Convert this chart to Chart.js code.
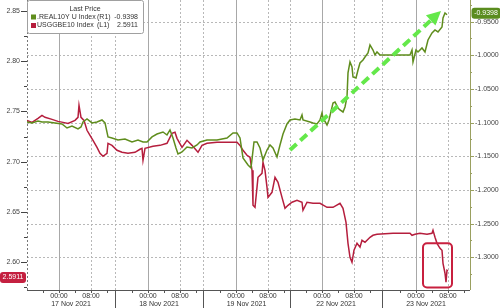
<!DOCTYPE html>
<html>
<head>
<meta charset="utf-8">
<script src="https://cdn.jsdelivr.net/npm/chart.js@4.4.1/dist/chart.umd.min.js"></script>
<style>
html, body { margin: 0; padding: 0; background: #fff; }
</style>
</head>
<body>
<canvas id="realYieldChart" width="500" height="308"></canvas>
<script>
// Series: x = position on the session axis (trading hours from the left edge)
const realX = [0, 1.25, 2.75, 3.75, 5.25, 7, 8.75, 10, 11.25, 12.75,
    13.5, 14, 15, 16.25, 17.5, 18.75, 19.5, 20.25, 21.25, 22.75,
    24.5, 26.25, 27.75, 29, 30, 31.25, 32.5, 34, 35, 35.75,
    36.5, 37.25, 37.75, 38.75, 40, 41.25, 42.5, 43.25, 45, 47.5,
    50, 51.5, 52.5, 53.25, 54, 55.25, 56, 56.75, 57.5, 58.25,
    59, 60, 60.75, 61.5, 62.5, 63.25, 64, 65, 65.75, 67,
    68.25, 68.75, 69, 70.75, 71.5, 72.5, 73.25, 73.75, 74, 75,
    75.5, 76.5, 77, 77.75, 78.25, 79, 79.5, 80, 80.25, 80.75,
    81.25, 81.5, 82.25, 82.75, 83.25, 84, 84.5, 85.25, 85.75, 86.5,
    87, 87.5, 88.25, 90.75, 93.25, 95.75, 96.25, 96.5, 97.25, 97.75,
    98.75, 99.5, 100.25, 101.25, 102, 102.75, 103.75, 104, 104.5, 105];
const realY = [-1.0990, -1.1005, -1.0976, -1.0990, -1.0990, -1.1005, -1.1020, -1.1080, -1.1050, -1.1094,
    -1.1065, -1.0990, -1.0946, -1.1005, -1.0990, -1.0961, -1.1005, -1.1213, -1.1228, -1.1258,
    -1.1243, -1.1288, -1.1258, -1.1288, -1.1288, -1.1213, -1.1169, -1.1139, -1.1184, -1.1109,
    -1.1228, -1.1377, -1.1466, -1.1436, -1.1362, -1.1377, -1.1332, -1.1288, -1.1258, -1.1258,
    -1.1228, -1.1154, -1.1154, -1.1228, -1.1525, -1.1629, -1.1674, -1.1288, -1.1288, -1.1377,
    -1.1555, -1.1407, -1.1332, -1.1377, -1.1511, -1.1332, -1.1169, -1.1020, -1.0961, -1.0946,
    -1.0961, -1.0886, -1.0961, -1.0990, -1.1005, -1.1020, -1.0961, -1.0857, -1.0931, -1.1035,
    -1.0961, -1.0708, -1.0693, -1.0782, -1.0812, -1.0842, -1.0768, -1.0619, -1.0262, -1.0099,
    -1.0173, -1.0322, -1.0337, -1.0218, -1.0114, -1.0069, -1.0025, -0.9965, -0.9846, -0.9921,
    -0.9995, -0.9950, -0.9995, -0.9995, -0.9995, -0.9995, -0.9921, -1.0099, -0.9921, -0.9950,
    -0.9891, -0.9950, -0.9772, -0.9668, -0.9623, -0.9653, -0.9579, -0.9445, -0.9371, -0.9398];

const beX = [0, 1.25, 2.75, 3.75, 4.5, 6.25, 7.75, 9, 10.25, 12,
    12.75, 13, 13.5, 14.25, 15, 15.75, 16.5, 17.5, 18.25, 19,
    20, 20.25, 21.25, 22.5, 23.75, 25.25, 27, 28.25, 28.75, 29,
    29.5, 31.5, 33.25, 35, 36.25, 37, 37.5, 38.75, 40, 41.25,
    42.75, 43.75, 45, 47.5, 50, 52.5, 53.25, 54, 55, 55.75,
    56.25, 56.5, 57, 57.5, 57.75, 58.75, 59, 59.5, 60, 60.25,
    61.25, 62, 62.75, 63.75, 64.5, 65.25, 66.25, 67.5, 68.75, 69,
    70, 71.5, 73.25, 75, 76.5, 78.25, 79, 79.75, 80.25, 80.75,
    81.25, 81.75, 82.5, 83.25, 83.75, 84.5, 85.75, 86.5, 87.5, 91.5,
    95.75, 96.25, 97, 98.25, 100, 101.25, 101.5, 102, 102.5, 103.25,
    103.75, 104, 104.5, 104.75, 105, 105.25];
const beY = [2.7411, 2.7391, 2.7431, 2.7461, 2.7441, 2.7421, 2.7401, 2.7391, 2.7381, 2.7411,
    2.7441, 2.7561, 2.7441, 2.7411, 2.7312, 2.7262, 2.7212, 2.7142, 2.7083, 2.7053,
    2.7083, 2.7182, 2.7162, 2.7113, 2.7093, 2.7083, 2.7093, 2.7123, 2.7132, 2.7013,
    2.7132, 2.7152, 2.7162, 2.7182, 2.7282, 2.7292, 2.7232, 2.7142, 2.7212, 2.7162,
    2.7093, 2.7162, 2.7182, 2.7192, 2.7192, 2.7192, 2.7162, 2.7113, 2.7063, 2.7043,
    2.6913, 2.6565, 2.6545, 2.6744, 2.6844, 2.6883, 2.6993, 2.6913, 2.6744, 2.6644,
    2.6694, 2.6844, 2.6794, 2.6644, 2.6535, 2.6565, 2.6595, 2.6615, 2.6595, 2.6515,
    2.6595, 2.6585, 2.6585, 2.6545, 2.6545, 2.6585, 2.6535, 2.6395, 2.6186, 2.6047,
    2.5997, 2.6117, 2.6186, 2.6147, 2.6216, 2.6196, 2.6246, 2.6266, 2.6276, 2.6286,
    2.6286, 2.6266, 2.6276, 2.6286, 2.6276, 2.6286, 2.6316, 2.6246, 2.6186, 2.6136,
    2.6117, 2.5987, 2.5888, 2.5798, 2.5917, 2.5911];

// Axes
const leftTicks = [2.60, 2.65, 2.70, 2.75, 2.80, 2.85];
const rightTicks = [-0.95, -1.00, -1.05, -1.10, -1.15, -1.20, -1.25, -1.30];
const dayZero = [8, 30.25, 52.25, 73.75, 97.25];        // 00:00 of each day
const sessionBreaks = [22, 44, 65.75, 88.75];
const dayLabels = ['17 Nov 2021', '18 Nov 2021', '19 Nov 2021', '22 Nov 2021', '23 Nov 2021'];
const X_MAX = 110.75;

// Annotations
const arrowFrom = [65.75, -1.1407];
const arrowTo = [103.5, -0.9341];
const boxX = [99, 106.25];
const boxY = [2.6186, 2.5747];

const FAMILY = '"Liberation Sans", Arial, sans-serif';
const FONT = '7px ' + FAMILY;
const GREEN = '#5f8d1d';
const RED = '#b51e3d';

function seg(ctx, x1, y1, x2, y2) {
    ctx.beginPath();
    ctx.moveTo(x1, y1);
    ctx.lineTo(x2, y2);
    ctx.stroke();
}

function rrect(ctx, x, y, w, h, r) {
    ctx.beginPath();
    ctx.moveTo(x + r, y);
    ctx.arcTo(x + w, y, x + w, y + h, r);
    ctx.arcTo(x + w, y + h, x, y + h, r);
    ctx.arcTo(x, y + h, x, y, r);
    ctx.arcTo(x, y, x + w, y, r);
    ctx.closePath();
}

const bbgFrame = {
    id: 'bbgFrame',
    beforeDatasetsDraw(chart) {
        const { ctx, chartArea: a, scales } = chart;
        const xs = scales.x, yR = scales.yR;
        ctx.save();
        ctx.lineWidth = 1;
        // horizontal grid (right axis)
        ctx.strokeStyle = '#b8b8b8';
        ctx.setLineDash([2, 2]);
        rightTicks.forEach(v => {
            const py = Math.round(yR.getPixelForValue(v)) + 0.5;
            seg(ctx, a.left, py, a.right, py);
        });
        // dotted verticals: 08:00 and session breaks
        const dotted = sessionBreaks.concat(dayZero.map(d => d + 8));
        dotted.forEach(v => {
            const px = Math.round(xs.getPixelForValue(v)) + 0.5;
            seg(ctx, px, a.top, px, a.bottom);
        });
        // left edge dotted
        ctx.strokeStyle = '#777';
        seg(ctx, a.left + 0.5, a.top, a.left + 0.5, a.bottom);
        // solid verticals at 00:00
        ctx.setLineDash([]);
        ctx.strokeStyle = '#a8a8a8';
        dayZero.forEach(v => {
            const px = Math.round(xs.getPixelForValue(v)) + 0.5;
            seg(ctx, px, a.top, px, a.bottom);
        });
        ctx.restore();
    },
    afterDatasetsDraw(chart) {
        const { ctx, scales } = chart;
        const xs = scales.x, yR = scales.yR, yL = scales.yL;
        ctx.save();
        // dashed arrow
        const x0 = xs.getPixelForValue(arrowFrom[0]), y0 = yR.getPixelForValue(arrowFrom[1]);
        const x1 = xs.getPixelForValue(arrowTo[0]), y1 = yR.getPixelForValue(arrowTo[1]);
        const ang = Math.atan2(y1 - y0, x1 - x0);
        const head = 14, half = 7;
        const bx = x1 - head * Math.cos(ang), by = y1 - head * Math.sin(ang);
        ctx.strokeStyle = '#64e84a';
        ctx.fillStyle = '#64e84a';
        ctx.lineWidth = 4;
        ctx.setLineDash([9, 5]);
        seg(ctx, x0, y0, bx, by);
        ctx.setLineDash([]);
        ctx.beginPath();
        ctx.moveTo(x1, y1);
        ctx.lineTo(bx + half * Math.sin(ang), by - half * Math.cos(ang));
        ctx.lineTo(bx - half * Math.sin(ang), by + half * Math.cos(ang));
        ctx.closePath();
        ctx.fill();
        // red highlight box
        const bl = xs.getPixelForValue(boxX[0]), br = xs.getPixelForValue(boxX[1]);
        const bt = yL.getPixelForValue(boxY[0]), bb = yL.getPixelForValue(boxY[1]);
        ctx.strokeStyle = '#c8203f';
        ctx.lineWidth = 2;
        rrect(ctx, bl, bt, br - bl, bb - bt, 4);
        ctx.stroke();
        ctx.restore();
    },
    afterDraw(chart) {
        const { ctx, chartArea: a, scales } = chart;
        const xs = scales.x, yR = scales.yR, yL = scales.yL;
        ctx.save();
        ctx.lineWidth = 1;
        // bottom axis
        ctx.strokeStyle = '#555';
        seg(ctx, a.left, a.bottom + 0.5, a.right, a.bottom + 0.5);
        // x tick marks
        dayZero.forEach((z, i) => {
            const start = i === 0 ? 0 : sessionBreaks[i - 1];
            const end = i < sessionBreaks.length ? sessionBreaks[i] : X_MAX;
            for (let k = -12; k <= 20; k += 4) {
                const t = z + k;
                if (t > start + 0.5 && t < end - 0.5) {
                    const px = Math.round(xs.getPixelForValue(t)) + 0.5;
                    seg(ctx, px, a.bottom, px, a.bottom + 3);
                }
            }
        });
        sessionBreaks.forEach(v => {
            const px = Math.round(xs.getPixelForValue(v)) + 0.5;
            seg(ctx, px, a.bottom, px, 308);
        });
        // left axis tick marks
        ctx.strokeStyle = '#444';
        for (let v = 2.575; v < 2.861; v += 0.025) {
            const py = Math.round(yL.getPixelForValue(v)) + 0.5;
            const major = Math.abs(Math.round(v / 0.05) * 0.05 - v) < 0.001;
            seg(ctx, a.left - (major ? 6 : 3), py, a.left, py);
        }
        // right axis line and ticks
        ctx.strokeStyle = '#9aa060';
        seg(ctx, a.right + 0.5, a.top, a.right + 0.5, a.bottom);
        for (let v = -1.325; v < -0.917; v += 0.025) {
            const py = Math.round(yR.getPixelForValue(v)) + 0.5;
            const major = Math.abs(Math.round(v / 0.05) * 0.05 - v) < 0.001;
            seg(ctx, a.right, py, a.right + (major ? 4 : 2), py);
        }
        // x labels
        ctx.font = FONT;
        ctx.fillStyle = '#333';
        ctx.textAlign = 'center';
        ctx.textBaseline = 'middle';
        dayZero.forEach((z, i) => {
            ctx.fillText('00:00', xs.getPixelForValue(z), a.bottom + 6);
            ctx.fillText('08:00', xs.getPixelForValue(z + 8), a.bottom + 6);
            const start = i === 0 ? 0 : sessionBreaks[i - 1];
            const end = i < sessionBreaks.length ? sessionBreaks[i] : X_MAX;
            ctx.fillText(dayLabels[i], xs.getPixelForValue((start + end) / 2), a.bottom + 14);
        });
        // legend
        ctx.fillStyle = '#fff';
        ctx.strokeStyle = '#a0a0a0';
        rrect(ctx, a.left + 0.5, 0.5, 116, 33, 2);
        ctx.fill();
        ctx.stroke();
        ctx.fillStyle = '#333';
        ctx.fillText('Last Price', a.left + 58, 9);
        const rows = [
            { color: GREEN, name: '.REAL10Y U Index', ax: '(R1)', val: realY[realY.length - 1].toFixed(4) },
            { color: RED, name: 'USGGBE10 Index', ax: '(L1)', val: beY[beY.length - 1].toFixed(4) }
        ];
        rows.forEach((r, i) => {
            const cy = 17 + i * 8.5;
            ctx.fillStyle = r.color;
            ctx.fillRect(a.left + 4, cy - 2.5, 5, 5);
            ctx.fillStyle = '#333';
            ctx.textAlign = 'left';
            ctx.fillText(r.name, a.left + 10, cy);
            ctx.fillText(r.ax, a.left + 70, cy);
            ctx.textAlign = 'right';
            ctx.fillText(r.val, a.left + 111, cy);
        });
        // last price tags
        ctx.textAlign = 'center';
        const gy = yR.getPixelForValue(realY[realY.length - 1]) - 1.5;
        ctx.fillStyle = '#5a8c1e';
        rrect(ctx, a.right + 1.5, gy - 5.5, 29, 11, 3);
        ctx.fill();
        ctx.fillStyle = '#fff';
        ctx.fillText(realY[realY.length - 1].toFixed(4), a.right + 16, gy);
        const ry = yL.getPixelForValue(beY[beY.length - 1]) + 6.5;
        ctx.fillStyle = '#c42040';
        rrect(ctx, 0, ry - 5.5, 26, 11, 3);
        ctx.fill();
        ctx.fillStyle = '#fff';
        ctx.fillText(beY[beY.length - 1].toFixed(4), 13, ry);
        ctx.restore();
    }
};

const tickFont = { family: FAMILY, size: 7 };

const ctx = document.getElementById('realYieldChart').getContext('2d');
const realYieldChart = new Chart(ctx, {
    type: 'line',
    data: {
        datasets: [{
            label: '.REAL10Y U Index',
            data: realX.map((x, i) => ({ x: x, y: realY[i] })),
            yAxisID: 'yR',
            borderColor: GREEN,
            borderWidth: 1.5,
            pointRadius: 0,
            tension: 0
        }, {
            label: 'USGGBE10 Index',
            data: beX.map((x, i) => ({ x: x, y: beY[i] })),
            yAxisID: 'yL',
            borderColor: RED,
            borderWidth: 1.5,
            pointRadius: 0,
            tension: 0
        }]
    },
    options: {
        responsive: false,
        animation: false,
        devicePixelRatio: 1,
        layout: { padding: { top: 0, left: 0, right: 0, bottom: 18 } },
        plugins: { legend: { display: false }, tooltip: { enabled: false } },
        scales: {
            x: { type: 'linear', min: 0, max: X_MAX, display: false },
            yL: {
                position: 'left',
                min: 2.5721,
                max: 2.861,
                afterBuildTicks: s => { s.ticks = leftTicks.map(v => ({ value: v })); },
                afterFit: s => { s.width = 27; s.paddingTop = 0; s.paddingBottom = 0; },
                grid: { display: false, drawTicks: false },
                border: { display: false },
                ticks: { font: tickFont, color: '#444', padding: 7, callback: v => v.toFixed(2) }
            },
            yR: {
                position: 'right',
                min: -1.3487,
                max: -0.9178,
                afterBuildTicks: s => { s.ticks = rightTicks.map(v => ({ value: v })); },
                afterFit: s => { s.width = 30; s.paddingTop = 0; s.paddingBottom = 0; },
                grid: { display: false, drawTicks: false },
                border: { display: false },
                ticks: { font: tickFont, color: '#444', padding: 5, callback: v => v.toFixed(4) }
            }
        }
    },
    plugins: [bbgFrame]
});
</script>
</body>
</html>
